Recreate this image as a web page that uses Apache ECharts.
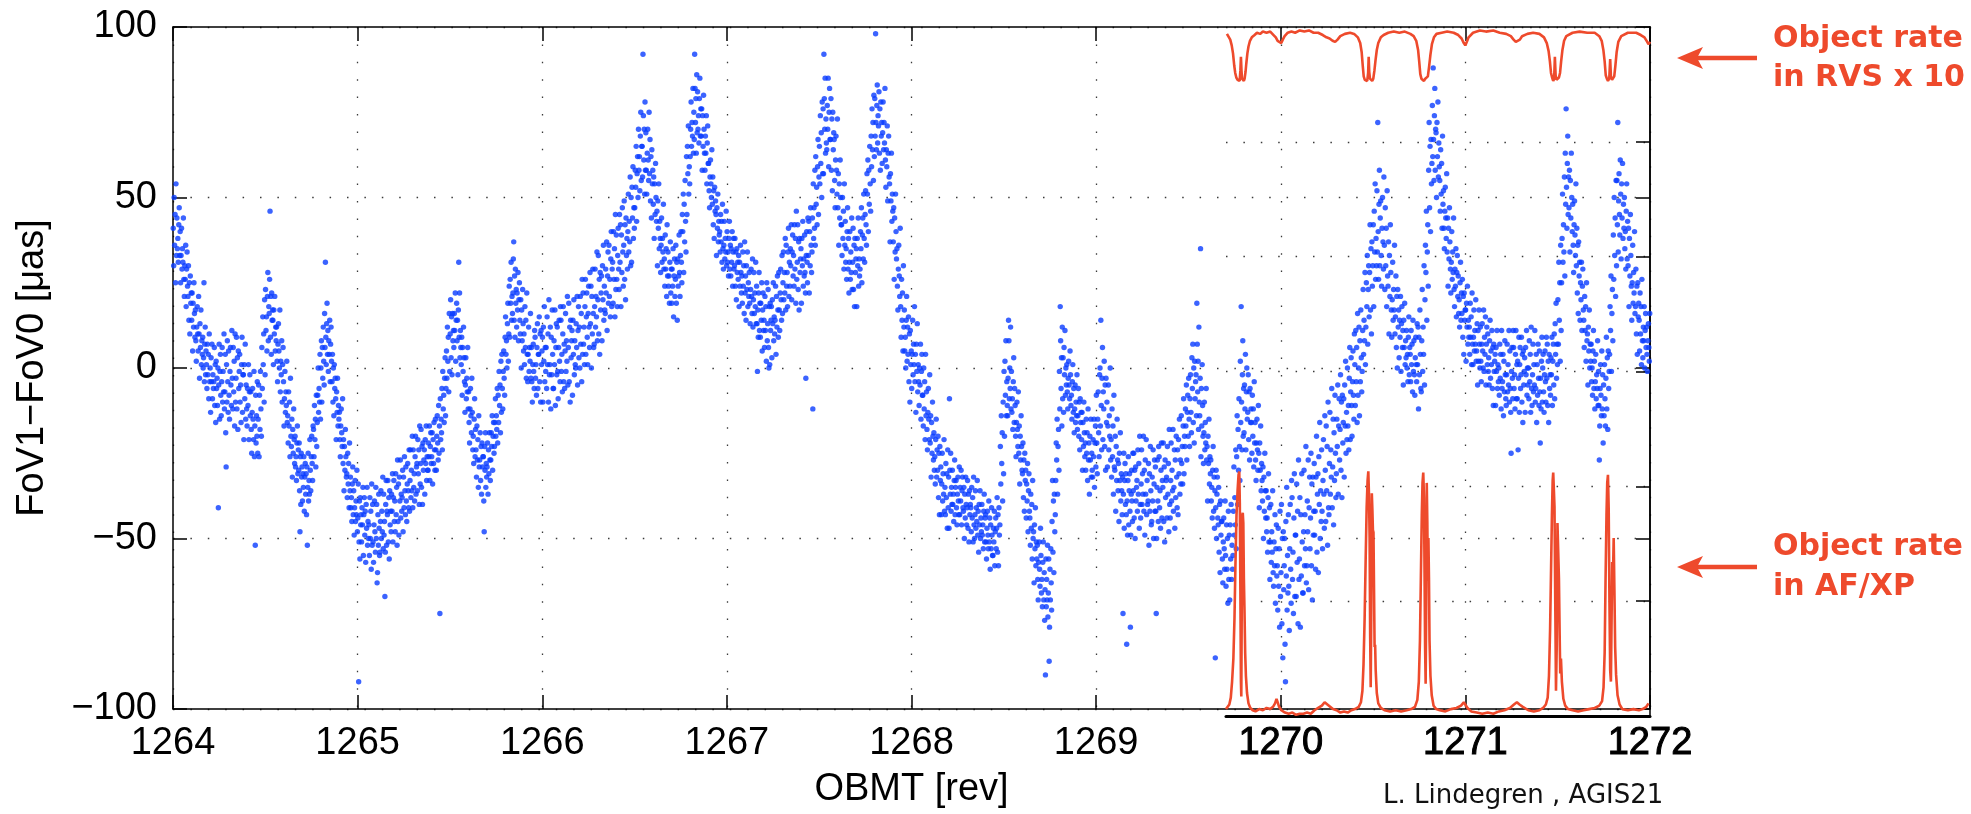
<!DOCTYPE html>
<html><head><meta charset="utf-8">
<script src="https://cdn.jsdelivr.net/npm/echarts@6/dist/echarts.min.js"></script>
<style>html,body{margin:0;padding:0;background:#fff}#c{width:1971px;height:814px}</style>
</head><body><div id="c"></div>
<script>
// ---- tick labels ----
const xTicks = [1264,1265,1266,1267,1268,1269,1270,1271,1272];
const yTicks = [-100,-50,0,50,100];

// ---- FoV1-FoV0 scatter [µas]: values read per 0.02-rev bin, listed in time order within each bin ----
const binWidth = 0.02;
const cloud1264 = [
[41,30,50,36,45,25,54,33],[44,35,38,31,42,47,33,40],[25,33,41,29,35,31,44,26],[21,30,26,36,18,29,34,24],[21,30,14,25,10,27,19,22],
[14,22,5,19,12,25,16,9],[17,8,2,12,18,10,5,21],[10,-3,13,6,17,1,8,4],[9,0,3,25,-4,7,12,-2,5],[1,-6,7,-2,4,-9,10,-4],
[0,-13,3,-4,7,-9,-2,-6],[-4,6,-11,1,-16,2,-6,-3],[-11,0,-41,-5,7,-15,-1,4,-8],[-14,-4,6,-10,-1,-7,10,-12],[-7,4,-19,-29,1,-10,8,-4,-13],
[5,-8,-15,-1,6,-5,-11,11],[-3,-12,6,-7,2,-17,10,-10],[-3,9,-12,3,-18,5,-6,-1],[4,-10,-5,-16,1,9,-13,-2],[-2,-21,1,-9,7,-15,-5,-12],
[-17,-6,-11,1,-21,-7,-2,-14],[-7,-18,-25,-13,-6,-15,-21,-1],[-26,-17,-52,-8,-22,-14,-20,-4,-25],[-15,-5,-26,-8,-18,-1,-12,-20],[6,-6,15,1,10,-10,20,-2],
[23,11,15,5,21,28,8,18],[16,26,46,9,21,4,22,14,17],[14,1,17,10,21,5,12,8],[12,2,-4,7,13,5,0,17],[-7,2,-2,8,-10,1,6,-4],
[-17,-9,-1,-13,-7,-11,2,-16],[-14,-22,-7,-17,-10,-26,-3,-20],[-23,-15,-32,-18,-25,-12,-21,-28],[-20,-29,-26,-33,-22,-17,-31,-24],[-30,-22,-36,-48,-26,-40,-25,-32,-29],
[-39,-31,-35,-26,-42,-32,-28,-37],[-31,-43,-29,-52,-35,-25,-39,-33,-37],[-21,-30,-36,-26,-20,-28,-33,-17],[-18,-26,-11,-21,-15,-29,-8,-23],[-16,-8,0,-13,-6,-10,4,-15],
[0,8,-10,6,-3,12,2,-5],[16,6,31,9,1,13,19,4,11],[-1,8,4,14,-4,7,12,2],[-4,4,-10,0,-14,1,-6,-3],[-9,-21,-7,-13,-3,-17,-11,-15],
[-13,-21,-26,-17,-12,-19,-23,-9],[-28,-21,-36,-23,-30,-18,-26,-32],[-31,-38,-25,-34,-28,-41,-22,-36],[-32,-41,-38,-45,-34,-29,-43,-36],[-49,-41,-33,-45,-39,-43,-30,-48]
];
const cloud1265 = [
[-44,-34,-92,-51,-39,-56,-38,-46,-43],[-51,-41,-46,-35,-55,-43,-38,-49],[-42,-57,-40,-47,-35,-52,-45,-50],[-46,-55,-38,-50,-42,-59,-34,-52],[-40,-51,-57,-46,-39,-48,-54,-35],
[-50,-40,-63,-60,-43,-52,-37,-47,-55],[-54,-45,-36,-50,-42,-48,-32,-53],[-37,-49,-45,-67,-54,-40,-33,-52,-42],[-43,-33,-51,-38,-56,-36,-46,-42],[-48,-37,-42,-31,-51,-38,-33,-45],
[-39,-48,-31,-43,-35,-52,-27,-45],[-34,-49,-32,-39,-27,-44,-37,-42],[-38,-30,-48,-32,-41,-26,-36,-43],[-29,-39,-45,-34,-28,-36,-41,-24],[-42,-33,-24,-38,-30,-36,-20,-41],
[-24,-35,-31,-39,-26,-20,-37,-29],[-28,-36,-21,-31,-24,-40,-17,-34],[-28,-18,-35,-23,-40,-22,-30,-27],[-24,-37,-21,-28,-17,-33,-26,-30],[-30,-22,-26,-17,-33,-23,-19,-28],
[-26,-19,-34,-21,-28,-16,-24,-30],[-15,-24,-30,-20,-14,-22,-27,-11],[-25,-17,-72,-9,-21,-15,-19,-6,-24],[-1,-12,-8,-16,-3,3,-14,-6],[5,-3,12,2,9,-7,16,-1],
[10,20,3,15,-2,16,8,11],[6,16,11,22,2,14,19,8],[14,-2,17,31,9,22,3,11,6],[1,9,-8,6,-1,12,3,-4],[-13,-5,3,-9,-3,-7,6,-12],
[-7,-16,-22,-12,-6,-14,-19,-3],[-13,-24,-20,-28,-15,-9,-26,-18],[-24,-32,-17,-27,-21,-35,-14,-29],[-27,-19,-33,-23,-37,-22,-29,-26],[-26,-39,-48,-23,-30,-19,-35,-28,-32],
[-29,-22,-37,-24,-31,-19,-27,-33],[-27,-19,-23,-14,-30,-20,-16,-25],[-23,-16,-9,-20,-14,-18,-6,-22],[-8,-16,-1,-11,-5,-19,2,-13],[4,-6,-12,-1,5,-3,-8,9],
[15,4,8,0,13,19,2,10],[24,9,26,19,31,14,21,16],[22,32,37,14,27,9,29,19,23],[12,22,17,28,8,20,25,14],[10,20,0,17,8,23,13,5],
[10,1,18,6,14,-3,22,4],[-4,4,12,-1,6,2,16,-3],[6,-4,-10,1,7,-1,-6,11],[9,-3,1,-8,6,13,-6,4],[4,15,-4,10,-10,11,1,5]
];
const cloud1266 = [
[9,-10,12,2,18,-4,6,-1],[6,-6,15,1,10,-10,20,-2],[1,12,-12,9,-2,17,4,-6],[-6,8,1,17,-11,6,13,-2],[12,-1,-9,6,14,2,-4,18],
[14,-1,4,-7,10,18,-4,7],[-6,5,16,-1,8,2,21,-5],[6,19,-4,12,-10,14,3,8],[11,-8,14,4,20,-2,8,1],[0,13,6,21,-5,11,18,3],
[12,0,21,7,16,-4,26,4],[22,7,12,1,18,26,4,15],[22,9,1,16,24,12,6,28],[13,24,0,21,10,29,16,6],[7,18,29,12,21,15,34,8],
[20,33,10,26,4,28,17,22],[27,8,30,20,36,14,24,17],[16,29,22,37,11,27,34,19],[36,21,26,15,32,40,18,29],[31,19,40,26,35,15,45,23],
[39,26,18,33,41,29,23,45],[31,42,18,39,28,47,34,24],[36,49,26,42,20,44,33,38],[29,40,51,34,43,37,56,30],[50,31,53,44,59,38,47,41],
[47,58,53,65,43,57,62,50],[70,58,62,52,68,75,55,65],[65,56,92,74,61,70,51,78,58],[69,58,51,63,70,61,55,75],[57,67,49,62,44,64,54,58],
[48,56,38,54,45,60,50,43],[46,30,49,41,54,35,43,38],[28,36,44,31,38,34,48,29],[32,24,39,29,35,21,42,27],[34,24,27,19,31,37,22,29],
[19,29,24,35,15,27,32,21],[26,36,19,31,14,32,24,27],[39,28,21,33,40,31,25,45],[40,51,28,48,37,55,43,34],[62,45,65,57,71,51,59,54],
[62,70,78,65,72,68,82,63],[75,67,92,82,72,79,63,86,69],[81,70,74,66,79,85,68,76],[68,76,58,74,65,80,70,63],[58,68,63,74,54,66,71,60],
[60,52,47,56,61,54,50,64],[48,56,42,52,38,53,46,49],[45,33,47,41,51,37,43,39],[40,34,45,37,43,31,48,35],[29,36,43,32,38,34,46,30]
];
const cloud1267 = [
[40,31,34,27,38,43,29,36],[27,35,31,40,24,34,38,29],[30,38,24,34,20,35,28,31],[26,33,18,31,24,36,28,22],[27,19,34,24,30,16,37,22],
[27,14,30,23,34,18,25,21],[28,19,13,23,29,21,16,32],[12,20,28,16,22,18,31,13],[24,13,-1,17,9,22,28,11,19],[9,19,14,25,5,17,22,11],
[14,6,21,11,18,2,25,8],[13,23,6,0,18,1,19,11,14],[18,3,20,13,25,8,15,10],[14,24,4,21,12,27,17,9],[28,17,11,22,29,20,14,33],
[16,25,34,20,28,22,38,17],[36,24,28,18,34,41,21,31],[24,35,30,42,20,34,39,27],[33,24,42,29,38,19,46,26],[31,42,23,37,17,38,28,32],
[35,19,38,30,43,24,32,27],[39,28,22,-3,33,40,31,25,44],[33,43,22,40,30,47,36,28],[34,44,-12,54,38,47,41,58,36],[62,48,53,42,59,67,45,56],
[65,54,74,60,69,50,78,57],[76,57,92,79,70,85,63,73,66],[64,77,70,85,59,75,82,67],[67,79,58,73,52,75,64,69],[67,55,47,61,68,58,51,73],
[47,57,36,54,44,61,50,42],[42,33,50,38,46,29,54,36],[43,31,35,26,40,47,29,38],[22,31,40,26,34,28,44,23],[31,41,23,36,18,38,28,32],
[35,18,38,30,44,24,32,27],[29,40,35,47,25,39,44,32],[51,38,31,45,52,42,36,57],[51,61,40,58,48,65,54,46],[68,59,76,64,72,55,80,62],
[79,68,98,72,64,77,83,66,74],[71,81,63,76,58,78,68,72],[60,69,78,64,72,66,82,61],[53,64,59,71,49,63,68,56],[54,37,57,49,63,43,51,46],
[37,47,26,44,34,51,40,32],[35,24,17,29,36,27,21,41],[18,9,26,14,22,5,30,12],[17,5,9,0,14,21,2,12],[4,15,-4,10,-10,11,1,5]
];
const cloud1268 = [
[-6,4,14,-2,7,1,18,-4],[4,-13,7,-1,13,-7,1,-4],[-11,0,-5,7,-15,-1,4,-8],[-8,-17,0,-12,-4,-21,4,-14],[-7,-18,-24,-13,-6,-15,-21,-2],
[-22,-14,-32,-16,-25,-10,-20,-27],[-19,-30,-26,-34,-21,-15,-32,-24],[-30,-20,-38,-25,-43,-23,-33,-29],[-43,-34,-25,-39,-31,-37,-21,-42],[-35,-43,-28,-38,-31,-47,-24,-41],
[-32,-47,-9,-30,-37,-25,-42,-35,-40],[-30,-40,-37,-45,-33,-27,-43,-35],[-33,-41,-46,-37,-32,-39,-43,-29],[-43,-35,-39,-30,-46,-36,-32,-41],[-42,-35,-50,-37,-44,-32,-40,-46],
[-41,-33,-47,-37,-51,-36,-43,-40],[-41,-48,-35,-44,-38,-51,-32,-46],[-50,-43,-36,-47,-41,-45,-33,-49],[-42,-54,-40,-46,-36,-50,-44,-48],[-40,-49,-46,-53,-42,-37,-51,-44],
[-43,-51,-56,-47,-42,-49,-53,-39],[-51,-44,-59,-46,-53,-41,-49,-55],[-55,-47,-51,-42,-58,-48,-44,-53],[-47,-38,-54,-43,-58,-41,-49,-46],[-23,-34,-14,-28,-19,-39,-10,-31],
[-1,-20,2,-8,8,-14,-4,-11],[-14,-3,14,8,-9,0,-6,12,-12],[-1,-13,-9,-18,-4,3,-16,-6],[-11,-20,-26,-16,-10,-18,-23,-7],[-25,-17,-34,-20,-27,-14,-23,-30],
[-31,-22,-38,-27,-42,-25,-33,-30],[-44,-34,-39,-28,-48,-36,-31,-42],[-44,-52,-37,-47,-40,-56,-33,-50],[-48,-63,-46,-53,-41,-58,-51,-56],[-52,-62,-68,-57,-51,-59,-64,-47],
[-55,-66,-62,-70,-57,-51,-68,-60],[-74,-65,-90,-56,-70,-62,-68,-52,-73],[-66,-56,-86,-76,-59,-68,-53,-63,-71],[-45,-33,-54,-39,-60,-37,-48,-43],[-33,-22,-27,-15,-37,-23,-18,-30],
[-1,-12,18,8,-6,3,-17,12,-9],[3,-13,6,-2,11,-8,0,-5],[1,-7,-12,-3,2,-5,-9,5],[-2,-11,-8,-15,-4,1,-13,-6],[-19,-12,-5,-16,-10,-14,-2,-18],
[-14,-6,-20,-10,-24,-9,-16,-13],[-21,-13,-30,-16,-23,-10,-19,-26],[-22,-30,-15,-25,-19,-33,-12,-27],[-22,-37,-20,-27,-15,-32,-25,-30],[-32,-21,-26,-15,-35,-22,-17,-29]
];
const cloud1269 = [
[-8,-22,-31,-15,-7,-19,-26,-2],[0,-17,14,-11,-24,-3,6,-21,-7],[-12,2,-23,-5,-30,-3,-16,-10],[-29,-17,-5,-24,-14,-20,0,-27],[-21,-32,-12,-26,-17,-37,-8,-29],
[-30,-20,-42,-23,-33,-15,-27,-36],[-28,-45,-25,-33,-19,-39,-31,-36],[-43,-32,-72,-37,-25,-47,-33,-28,-40],[-31,-43,-81,-39,-49,-33,-26,-46,-36],[-31,-42,-76,-49,-37,-30,-39,-45,-25],
[-36,-25,-44,-30,-50,-29,-39,-35],[-33,-42,-24,-37,-28,-47,-20,-40],[-44,-34,-24,-40,-31,-37,-20,-42],[-30,-49,-27,-37,-21,-43,-33,-40],[-39,-28,-52,-31,-42,-23,-36,-46],
[-45,-32,-39,-24,-50,-34,-27,-42],[-29,-42,-72,-50,-35,-27,-39,-45,-23],[-26,-41,-36,-47,-30,-22,-44,-33],[-35,-22,-45,-29,-51,-27,-38,-33],[-32,-44,-23,-37,-28,-48,-18,-40],
[-44,-33,-22,-39,-30,-36,-18,-42],[-35,-24,-47,-27,-38,-20,-32,-41],[-24,-43,-21,-31,-15,-37,-27,-34],[-14,-28,-23,-34,-17,-9,-31,-20],[-23,-12,-17,-5,-27,-13,-8,-20],
[-3,-15,-23,-9,-2,-13,-19,3],[-6,7,-16,0,-22,2,-9,-4],[-2,-14,19,7,-7,2,-18,12,-10],[-14,-3,35,-26,-6,-17,1,-11,-20],[-28,-19,-10,-24,-16,-22,-6,-27],
[-23,-39,-20,-28,-15,-34,-26,-31],[-27,-39,-35,-44,-30,-23,-42,-32],[-47,-36,-85,-41,-30,-50,-37,-32,-44],[-46,-35,-54,-40,-60,-39,-49,-45],[-45,-56,-63,-51,-44,-53,-59,-39],
[-55,-64,-46,-59,-50,-69,-42,-62],[-49,-68,-46,-56,-40,-62,-52,-59],[-55,-42,-29,-49,-38,-46,-24,-53],[-26,-14,-40,-18,-30,-9,-23,-33],[2,-16,18,-10,-24,-2,8,-20,-6],
[-19,-5,-12,4,-24,-7,0,-15],[-13,-2,-21,-7,-27,-6,-16,-12],[-16,-25,-8,-20,-12,-29,-4,-22],[-16,-27,-33,-22,-15,-24,-30,-11],[-25,-41,-22,-30,-17,-36,-28,-33],
[-39,-29,-50,-32,-42,-25,-36,-44],[-36,-48,-44,-54,-38,-31,-51,-41],[-62,-51,-40,-57,-48,-54,-36,-60],[-64,-51,-58,-43,-69,-53,-46,-61],[-58,-71,-47,-64,-53,-76,-42,-67]
];
const cloud1270 = [
[-60,-40,-75,-50,-85,-48,-65,-58],[-50,-81,-92,-45,-61,-35,-71,-55,-66],[-43,-64,-77,-53,-40,-59,-69,-33],[-38,-62,-54,-72,-44,-31,-67,-49],[-49,-67,-34,-57,-42,-75,-27,-62],
[-56,-38,-76,-43,-61,-31,-51,-66],[-66,-48,-30,-58,-43,-53,-23,-63],[-58,-39,-48,-27,-65,-41,-32,-53],[-44,-25,-58,-34,-68,-32,-49,-42],[-28,-49,-42,-59,-32,-20,-54,-37],
[-31,-60,-26,-40,-16,-50,-36,-45],[-24,-42,-53,-33,-21,-37,-47,-14],[-30,-45,-17,-36,-23,-52,-10,-41],[-43,-28,-13,-37,-24,-32,-6,-41],[-29,-15,-46,-19,-33,-8,-25,-38],
[-31,-15,-23,-5,-37,-17,-9,-27],[-18,-2,-30,-10,-38,-8,-22,-16],[-9,-32,-5,-17,2,-25,-13,-21],[0,-17,-11,-24,-3,6,-21,-7],[3,-11,-20,-4,5,-8,-15,10],
[1,-11,11,-4,6,-16,16,-8],[0,12,-14,8,-4,17,3,-7],[-1,11,23,4,14,8,28,1],[12,25,18,33,7,23,30,15],[28,42,17,35,10,37,24,30],
[42,18,46,34,54,26,38,30],[52,34,72,40,26,48,58,30,44],[49,33,24,41,50,37,29,56],[36,23,47,30,41,18,52,27],[24,37,10,33,21,42,28,17],
[9,20,31,14,23,17,36,10],[15,27,6,21,0,23,12,17],[3,14,9,21,-1,13,18,6],[11,-5,14,6,19,1,8,3],[11,0,4,-4,9,15,-2,6],
[4,-4,11,1,7,-7,14,-1],[8,-2,-8,3,9,1,-4,13],[1,12,-12,9,-2,17,4,-6],[-7,8,23,-1,12,4,30,-5],[20,36,28,46,14,34,42,24],
[58,72,47,65,40,67,54,60],[77,62,88,67,55,74,82,58,70],[69,50,72,62,78,56,66,59],[55,46,64,51,60,41,68,48],[52,41,35,46,53,44,38,57],
[34,44,24,41,32,47,37,29],[22,31,40,26,34,28,44,23],[18,29,24,35,15,28,33,21],[27,16,20,12,25,31,14,22],[16,26,9,21,4,22,14,17]
];
const cloud1271 = [
[17,2,19,12,24,7,14,9],[12,4,19,9,15,1,22,7],[1,9,17,5,11,7,20,2],[5,13,-5,11,2,17,7,0],[12,2,-4,7,13,5,0,17],
[-1,9,4,15,-5,7,12,1],[10,-1,3,-5,8,14,-3,5],[1,11,-6,6,-11,7,-1,2],[4,-11,6,-1,11,-6,1,-4],[0,-8,7,-3,4,-12,11,-6],
[-4,4,-14,2,-7,8,-2,-9],[-11,-2,7,-7,1,-5,11,-10],[5,-6,-13,-25,-1,6,-3,-9,11],[6,-6,-2,-12,4,11,-9,1],[-9,2,-24,-3,9,-13,1,6,-6],
[-2,9,-10,4,-16,5,-5,-1],[3,-13,6,-2,11,-8,0,-5],[0,-9,8,-4,4,-13,12,-6],[-11,-2,7,-7,1,-5,11,-10],[-6,4,-16,1,-8,7,-3,-11],
[5,-7,-22,-3,-12,2,9,-10,0],[4,-7,-13,-2,5,-4,-10,9],[-3,7,-11,2,-16,4,-6,-2],[-8,3,-2,9,-11,2,7,-5],[10,-9,13,4,19,-3,7,1],
[20,7,31,14,25,2,36,11],[25,38,51,31,42,34,56,27],[63,48,76,53,41,60,68,45,56],[47,58,34,55,44,63,50,40],[48,36,28,42,49,39,33,54],
[30,41,22,36,16,37,27,31],[14,25,20,31,11,24,29,17],[14,6,21,11,18,2,25,8],[10,-5,12,5,17,0,7,2],[7,-4,0,-8,5,11,-6,2],
[-12,-4,4,-9,-2,-6,8,-11],[-1,-11,-27,-17,-6,1,-8,-14,5],[-12,-2,-22,-5,-14,1,-9,-17],[-3,9,-12,3,-18,5,-6,-1],[4,18,11,27,-1,16,23,8],
[39,26,50,33,44,21,55,30],[55,42,72,34,49,57,45,39,61],[51,32,54,44,60,38,48,41],[50,35,40,29,46,54,32,43],[30,41,18,38,27,45,33,24],
[14,25,36,19,28,22,40,16],[18,29,10,24,4,25,15,19],[14,5,22,10,18,1,26,8],[3,12,8,18,0,11,16,6],[12,4,-1,8,13,6,2,16]
];
const cloudStarts = [1264,1265,1266,1267,1268,1269,1270,1271];

// ---- object rate curves (inset axes, 0..6 scale) ----
const rvsRate = [
[1269.705,5.94],[1269.715,5.93],[1269.723,5.89],[1269.731,5.84],[1269.738,5.77],[1269.745,5.66],[1269.750,5.60],[1269.756,5.56],[1269.763,5.54],[1269.769,5.55],
[1269.774,5.53],[1269.778,5.62],[1269.781,5.74],[1269.784,5.62],[1269.787,5.55],[1269.792,5.54],[1269.797,5.53],[1269.801,5.55],[1269.806,5.61],[1269.810,5.68],
[1269.816,5.77],[1269.822,5.83],[1269.830,5.88],[1269.840,5.91],[1269.855,5.93],[1269.868,5.95],[1269.885,5.94],[1269.900,5.96],[1269.920,5.95],[1269.940,5.96],
[1269.958,5.93],[1269.970,5.91],[1269.980,5.88],[1269.990,5.87],[1270.000,5.86],[1270.008,5.89],[1270.018,5.92],[1270.035,5.95],[1270.055,5.96],[1270.075,5.95],
[1270.100,5.97],[1270.125,5.96],[1270.150,5.97],[1270.175,5.95],[1270.200,5.95],[1270.225,5.93],[1270.245,5.91],[1270.262,5.90],[1270.278,5.88],[1270.292,5.87],
[1270.305,5.89],[1270.320,5.92],[1270.345,5.94],[1270.373,5.95],[1270.395,5.94],[1270.415,5.91],[1270.428,5.86],[1270.436,5.78],[1270.442,5.66],[1270.447,5.57],
[1270.453,5.54],[1270.460,5.55],[1270.466,5.53],[1270.471,5.60],[1270.474,5.74],[1270.477,5.61],[1270.481,5.55],[1270.487,5.54],[1270.493,5.53],[1270.499,5.55],
[1270.505,5.62],[1270.511,5.71],[1270.518,5.80],[1270.526,5.86],[1270.540,5.91],[1270.555,5.93],[1270.580,5.95],[1270.610,5.96],[1270.640,5.95],[1270.670,5.96],
[1270.700,5.94],[1270.718,5.92],[1270.732,5.88],[1270.742,5.80],[1270.748,5.70],[1270.754,5.59],[1270.760,5.55],[1270.767,5.54],[1270.774,5.53],[1270.781,5.55],
[1270.788,5.54],[1270.795,5.57],[1270.802,5.66],[1270.809,5.76],[1270.817,5.85],[1270.828,5.91],[1270.842,5.94],[1270.870,5.95],[1270.900,5.96],[1270.935,5.95],
[1270.960,5.93],[1270.978,5.90],[1270.990,5.86],[1270.998,5.84],[1271.006,5.87],[1271.016,5.91],[1271.040,5.95],[1271.077,5.97],[1271.110,5.96],[1271.150,5.97],
[1271.185,5.95],[1271.220,5.94],[1271.245,5.92],[1271.260,5.89],[1271.272,5.87],[1271.282,5.86],[1271.294,5.89],[1271.306,5.92],[1271.335,5.94],[1271.366,5.95],
[1271.400,5.94],[1271.425,5.91],[1271.440,5.86],[1271.450,5.79],[1271.457,5.70],[1271.463,5.60],[1271.469,5.56],[1271.475,5.53],[1271.480,5.55],[1271.484,5.74],
[1271.488,5.58],[1271.493,5.54],[1271.499,5.53],[1271.506,5.56],[1271.512,5.60],[1271.518,5.70],[1271.525,5.80],[1271.534,5.88],[1271.546,5.92],[1271.580,5.95],
[1271.618,5.96],[1271.660,5.95],[1271.700,5.95],[1271.725,5.92],[1271.738,5.88],[1271.747,5.80],[1271.754,5.70],[1271.760,5.58],[1271.766,5.55],[1271.772,5.53],
[1271.779,5.55],[1271.784,5.72],[1271.788,5.57],[1271.794,5.54],[1271.800,5.55],[1271.806,5.57],[1271.812,5.66],[1271.819,5.78],[1271.828,5.87],[1271.844,5.92],
[1271.880,5.95],[1271.925,5.95],[1271.950,5.93],[1271.970,5.91],[1271.985,5.87],[1271.993,5.85],[1272.000,5.87]
];
const afxpRate = [
[1269.700,0.06],[1269.710,0.07],[1269.718,0.10],[1269.726,0.16],[1269.733,0.30],[1269.740,0.50],[1269.746,0.85],[1269.751,1.30],[1269.757,1.75],[1269.763,1.97],
[1269.768,2.10],[1269.772,2.13],[1269.775,1.85],[1269.778,1.10],[1269.781,0.30],[1269.783,0.17],[1269.785,0.80],[1269.788,1.74],[1269.791,1.77],[1269.794,1.68],
[1269.797,1.20],[1269.800,0.95],[1269.804,0.55],[1269.808,0.35],[1269.814,0.20],[1269.822,0.11],[1269.832,0.07],[1269.845,0.05],[1269.860,0.04],[1269.880,0.06],
[1269.900,0.05],[1269.920,0.07],[1269.940,0.06],[1269.955,0.08],[1269.966,0.11],[1269.974,0.15],[1269.980,0.12],[1269.988,0.08],[1270.000,0.05],[1270.020,0.03],
[1270.040,0.02],[1270.060,0.03],[1270.080,0.01],[1270.100,0.02],[1270.120,0.02],[1270.140,0.03],[1270.160,0.02],[1270.180,0.05],[1270.200,0.07],[1270.220,0.09],
[1270.235,0.12],[1270.250,0.10],[1270.265,0.08],[1270.280,0.06],[1270.300,0.05],[1270.320,0.03],[1270.340,0.04],[1270.360,0.03],[1270.380,0.05],[1270.400,0.06],
[1270.420,0.08],[1270.432,0.12],[1270.440,0.22],[1270.446,0.45],[1270.452,0.85],[1270.458,1.40],[1270.463,1.82],[1270.468,2.05],[1270.472,2.13],[1270.476,1.90],
[1270.479,1.55],[1270.482,0.70],[1270.485,0.25],[1270.488,0.90],[1270.491,1.94],[1270.494,1.80],[1270.497,1.62],[1270.500,1.60],[1270.503,1.10],[1270.506,0.60],
[1270.509,0.62],[1270.512,0.40],[1270.518,0.20],[1270.526,0.11],[1270.540,0.07],[1270.560,0.05],[1270.590,0.04],[1270.620,0.05],[1270.650,0.04],[1270.680,0.05],
[1270.705,0.06],[1270.725,0.08],[1270.738,0.14],[1270.746,0.30],[1270.752,0.65],[1270.757,1.20],[1270.762,1.75],[1270.766,2.03],[1270.770,2.12],[1270.774,1.90],
[1270.777,1.25],[1270.780,0.60],[1270.783,0.28],[1270.786,0.90],[1270.789,2.03],[1270.792,1.70],[1270.795,1.18],[1270.798,1.55],[1270.801,1.20],[1270.804,0.66],
[1270.809,0.35],[1270.816,0.18],[1270.826,0.09],[1270.840,0.06],[1270.860,0.05],[1270.890,0.04],[1270.920,0.06],[1270.950,0.07],[1270.975,0.09],[1270.990,0.12],
[1270.998,0.11],[1271.010,0.07],[1271.030,0.04],[1271.060,0.03],[1271.090,0.02],[1271.120,0.03],[1271.150,0.02],[1271.180,0.04],[1271.210,0.05],[1271.240,0.07],
[1271.262,0.10],[1271.278,0.12],[1271.292,0.10],[1271.310,0.08],[1271.340,0.05],[1271.370,0.04],[1271.400,0.05],[1271.420,0.07],[1271.435,0.10],[1271.445,0.16],
[1271.452,0.35],[1271.458,0.75],[1271.463,1.25],[1271.468,1.75],[1271.472,2.05],[1271.475,2.12],[1271.479,1.95],[1271.482,1.82],[1271.486,1.00],[1271.490,0.22],
[1271.494,0.60],[1271.498,1.68],[1271.502,1.67],[1271.506,1.20],[1271.510,0.70],[1271.513,0.37],[1271.517,0.50],[1271.522,0.30],[1271.530,0.15],[1271.540,0.09],
[1271.555,0.06],[1271.580,0.05],[1271.610,0.04],[1271.640,0.05],[1271.670,0.06],[1271.700,0.07],[1271.725,0.09],[1271.740,0.13],[1271.748,0.25],[1271.754,0.55],
[1271.759,1.20],[1271.764,1.75],[1271.768,2.03],[1271.772,2.10],[1271.776,1.80],[1271.780,1.00],[1271.784,0.40],[1271.788,0.30],[1271.792,0.90],[1271.795,1.34],
[1271.799,1.20],[1271.803,1.55],[1271.807,1.09],[1271.811,0.60],[1271.816,0.36],[1271.824,0.18],[1271.835,0.10],[1271.850,0.06],[1271.880,0.05],[1271.910,0.06],
[1271.940,0.05],[1271.960,0.06],[1271.980,0.08],[1271.992,0.11],[1272.000,0.10]
];

// ---- build scatter points from bins (values spaced evenly in time across their bin) ----
const clouds = [cloud1264,cloud1265,cloud1266,cloud1267,cloud1268,cloud1269,cloud1270,cloud1271];
const cloudPoints = [];
clouds.forEach((bins, k) => {
  const start = cloudStarts[k];
  bins.forEach((vals, i) => {
    const n = vals.length;
    vals.forEach((v, j) => cloudPoints.push([start + binWidth * i + binWidth * (j + 0.5) / n, v]));
  });
});

const RED = '#ee4a2c';
const BLUE = '#0a3cff';
const FONT = '"Liberation Sans", Arial, Helvetica, sans-serif';
const dotted = {type: [1.5, 15.9], color: '#3a3a3a', width: 1.3};
const axLine = {show: true, onZero: false, lineStyle: {color: '#000', width: 1.5}};
const tick = {show: true, inside: true, length: 14, lineStyle: {color: '#000', width: 1.5}};

const chart = echarts.init(document.getElementById('c'), null, {renderer: 'canvas'});
chart.setOption({
  animation: false,
  backgroundColor: '#fff',
  grid: [
    {left: 173, right: 321, top: 27, bottom: 98},
    {left: 1226, right: 321, top: 27, bottom: 98}
  ],
  xAxis: [
    {gridIndex: 0, type: 'value', min: xTicks[0], max: xTicks[xTicks.length - 1], interval: 1, position: 'bottom',
     axisLine: axLine, axisTick: tick, splitLine: {show: true, lineStyle: dotted},
     axisLabel: {margin: 16, color: '#000', fontSize: 38, fontFamily: FONT,
       formatter: v => (v >= 1270 ? '{b|' + v + '}' : '{n|' + v + '}'),
       rich: {n: {fontSize: 38, fontFamily: FONT, color: '#000'},
              b: {fontSize: 38, fontFamily: FONT, color: '#000', textBorderColor: '#000', textBorderWidth: 1}}},
     name: 'OBMT [rev]', nameLocation: 'middle', nameGap: 62,
     nameTextStyle: {fontSize: 38, fontFamily: FONT, color: '#000'}},
    {gridIndex: 0, type: 'value', min: 1264, max: 1272, interval: 1, position: 'top',
     axisLine: axLine, axisTick: tick, axisLabel: {show: false}, splitLine: {show: false}},
    {gridIndex: 1, type: 'value', min: 1269.7, max: 1272, position: 'bottom',
     axisLine: {show: true, onZero: false, lineStyle: {color: '#000', width: 3}},
     axisTick: {show: false}, axisLabel: {show: false}, splitLine: {show: false}}
  ],
  yAxis: [
    {gridIndex: 0, type: 'value', min: yTicks[0], max: yTicks[yTicks.length - 1], interval: 50, position: 'left',
     axisLine: axLine, axisTick: tick, splitLine: {show: true, lineStyle: dotted},
     axisLabel: {margin: 16, color: '#000', fontSize: 38, fontFamily: FONT,
       formatter: v => String(v).replace('-', '\u2212')},
     name: 'FoV1\u2212FoV0 [\u03bcas]', nameLocation: 'middle', nameGap: 121,
     nameTextStyle: {fontSize: 38, fontFamily: FONT, color: '#000'}},
    {gridIndex: 0, type: 'value', min: -100, max: 100, interval: 50, position: 'right',
     axisLine: axLine, axisTick: tick, axisLabel: {show: false}, splitLine: {show: false}},
    {gridIndex: 1, type: 'value', min: 0, max: 6, interval: 1, position: 'right',
     axisLine: axLine, axisTick: tick, axisLabel: {show: false}, splitLine: {show: true, lineStyle: dotted}}
  ],
  series: [
    {type: 'scatter', xAxisIndex: 0, yAxisIndex: 0, data: cloudPoints, symbol: 'circle', symbolSize: 5.4,
     itemStyle: {color: BLUE}, silent: true, z: 2},
    {type: 'line', xAxisIndex: 2, yAxisIndex: 2, data: rvsRate, showSymbol: false, symbol: 'none',
     lineStyle: {color: RED, width: 2.6}, silent: true, z: 3},
    {type: 'line', xAxisIndex: 2, yAxisIndex: 2, data: afxpRate, showSymbol: false, symbol: 'none',
     lineStyle: {color: RED, width: 2.6}, silent: true, z: 3}
  ],
  graphic: [
    {type: 'line', shape: {x1: 1696, y1: 58, x2: 1757, y2: 58}, style: {stroke: RED, lineWidth: 4.5}},
    {type: 'polygon', shape: {points: [[1677, 58], [1703, 47], [1697, 58], [1703, 69]]}, style: {fill: RED}},
    {type: 'text', x: 1773, y: 39, style: {text: 'Object rate', font: 'bold 30px "DejaVu Sans"', fill: RED, verticalAlign: 'middle'}},
    {type: 'text', x: 1773, y: 78.5, style: {text: 'in RVS x 10', font: 'bold 30px "DejaVu Sans"', fill: RED, verticalAlign: 'middle'}},
    {type: 'line', shape: {x1: 1696, y1: 567, x2: 1757, y2: 567}, style: {stroke: RED, lineWidth: 4.5}},
    {type: 'polygon', shape: {points: [[1677, 567], [1703, 556], [1697, 567], [1703, 578]]}, style: {fill: RED}},
    {type: 'text', x: 1773, y: 547.5, style: {text: 'Object rate', font: 'bold 30px "DejaVu Sans"', fill: RED, verticalAlign: 'middle'}},
    {type: 'text', x: 1773, y: 587, style: {text: 'in AF/XP', font: 'bold 30px "DejaVu Sans"', fill: RED, verticalAlign: 'middle'}},
    {type: 'text', x: 1383, y: 796, style: {text: 'L. Lindegren , AGIS21', font: '26px "DejaVu Sans"', fill: '#111', verticalAlign: 'middle'}}
  ]
});
</script>
</body></html>
